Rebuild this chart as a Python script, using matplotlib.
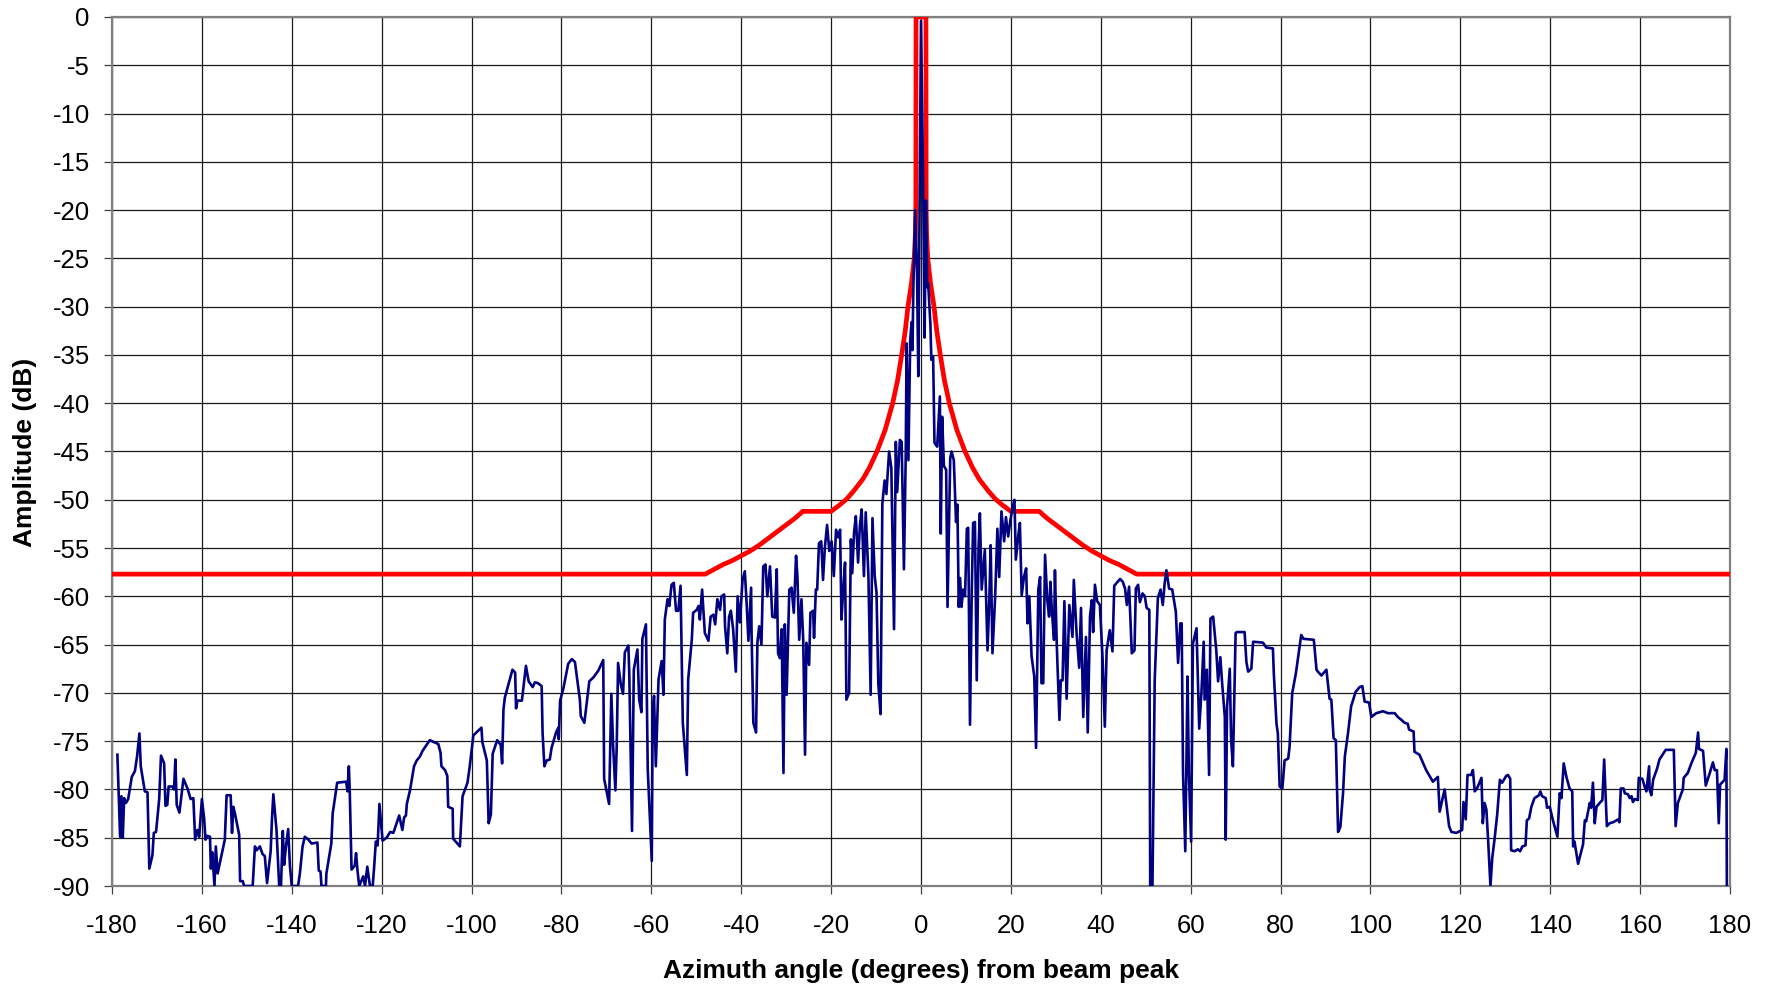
import matplotlib
matplotlib.use("Agg")
import matplotlib.pyplot as plt

plt.rcParams['font.family'] = ['Liberation Sans', 'DejaVu Sans']
plt.rcParams['axes.unicode_minus'] = False

# measured azimuth pattern (degrees, dB)
pattern_angle = [
    -178.8, -178.2, -177.9, -177.6, -177.3, -176.9, -176.4, -175.6, -174.9, -174.4,
    -173.9, -173.6, -172.7, -172.1, -171.7, -171.0, -170.7, -170.2, -169.5, -169.1,
    -168.4, -168.1, -167.7, -167.4, -166.5, -166.2, -165.9, -165.6, -165.0, -164.1,
    -163.2, -162.5, -161.9, -161.5, -161.0, -160.6, -160.0, -159.5, -159.2, -158.8,
    -158.2, -158.0, -157.7, -157.2, -156.9, -156.5, -154.9, -154.5, -153.6, -153.3,
    -153.0, -152.6, -151.7, -151.5, -150.9, -150.6, -148.7, -148.2, -147.8, -147.1,
    -146.5, -146.0, -145.5, -144.7, -144.4, -144.1, -143.7, -143.4, -142.8, -142.4,
    -142.0, -141.7, -141.3, -140.8, -140.4, -140.0, -138.6, -138.2, -137.6, -137.1,
    -136.3, -135.6, -134.3, -134.0, -133.6, -133.4, -132.4, -132.3, -131.2, -130.9,
    -129.9, -127.9, -127.6, -127.3, -127.1, -126.7, -126.0, -125.7, -125.4, -125.0,
    -124.1, -123.7, -123.2, -122.6, -122.0, -121.7, -121.3, -120.9, -120.5,
    -119.8, -118.9, -118.1, -117.4, -116.1, -115.4, -115.0, -114.6, -114.4, -113.7,
    -112.8, -112.2, -111.5, -110.9, -109.3, -107.4, -106.9, -106.7, -105.9, -105.4,
    -105.2, -104.2, -104.1, -102.6, -102.0, -100.9, -100.4, -99.6, -97.8, -97.6,
    -96.6, -96.2, -95.7, -95.3, -94.3, -93.5, -93.2, -92.9, -92.6, -90.9,
    -90.3, -90.1, -89.8, -88.8, -87.9, -87.3, -86.4, -85.9, -85.2, -84.4,
    -84.2, -83.8, -83.3, -82.6, -82.2, -81.2, -80.7, -80.6, -80.3, -79.6,
    -78.5, -77.7, -77.0, -75.9, -75.7, -74.9, -73.8, -72.9, -71.8, -70.7,
    -70.5, -69.4, -68.9, -68.5, -68.0, -67.7, -67.4, -66.8, -66.3, -65.9,
    -65.1, -64.9, -64.3, -63.9, -63.1, -62.7, -62.2, -62.0, -61.2, -60.8,
    -59.9, -59.7, -59.4, -59.0, -58.4, -57.7, -57.3, -57.0, -56.4, -56.0,
    -55.5, -55.0, -54.5, -54.0, -53.5, -53.0, -52.1, -51.8, -51.0, -50.7,
    -49.9, -49.5, -49.2, -48.7, -48.1, -47.3, -46.8, -46.2, -45.8, -45.3,
    -44.7, -44.4, -43.8, -43.6, -43.1, -42.7, -42.3, -41.8, -41.2, -40.8,
    -40.3, -39.7, -39.2, -38.8, -38.4, -37.8, -37.7, -37.3, -36.7, -36.4,
    -36.0, -35.5, -35.1, -34.6, -34.2, -33.6, -33.1, -32.5, -32.1, -31.8,
    -31.4, -31.0, -30.6, -30.3, -29.9, -29.3, -28.8, -28.3, -27.8, -27.5,
    -27.1, -26.6, -26.2, -25.8, -25.5, -24.9, -24.6, -24.0, -23.8, -23.4,
    -23.1, -22.7, -22.2, -21.8, -21.4, -20.9, -20.4, -19.9, -19.4, -18.9,
    -18.4, -18.0, -17.7, -17.3, -16.9, -16.6, -16.0, -15.6, -15.3, -14.9,
    -14.5, -14.0, -13.6, -13.2, -12.7, -12.3, -11.7, -11.2, -10.8, -10.3,
    -9.9, -9.5, -9.0, -8.6, -8.1, -7.7, -7.1, -6.6, -6.3, -6.0,
    -5.6, -5.3, -4.7, -4.3, -3.8, -3.4, -3.2, -2.8, -2.4, -2.1,
    -1.9, -1.7, -1.3, -0.9, -0.6, 0.0, 0.5, 0.8, 1.1, 1.4,
    1.6, 2.1, 2.3, 2.7, 3.0, 3.6, 4.2, 4.4, 4.7, 5.1,
    5.6, 5.9, 6.5, 6.8, 7.3, 7.8, 8.1, 8.4, 8.7, 9.0,
    9.4, 9.8, 10.2, 10.5, 10.9, 11.3, 11.6, 12.0, 12.4, 12.8,
    13.1, 13.5, 14.2, 14.8, 15.2, 15.5, 15.9, 16.5, 17.0, 17.4,
    17.9, 18.5, 18.9, 19.4, 19.9, 20.4, 20.8, 21.1, 21.7, 22.0,
    22.4, 22.9, 23.4, 23.7, 24.1, 24.6, 25.2, 25.6, 26.1, 26.5,
    26.8, 27.2, 27.6, 28.1, 28.5, 28.8, 29.1, 29.6, 29.8, 30.2,
    30.8, 31.1, 31.5, 31.9, 32.4, 33.0, 33.7, 34.0, 34.6, 35.2,
    35.6, 36.1, 36.7, 37.1, 37.6, 38.0, 38.3, 38.7, 39.2, 39.8,
    40.4, 40.9, 41.3, 42.0, 42.6, 43.0, 44.3, 44.9, 45.4, 45.8,
    46.3, 46.9, 47.5, 47.8, 48.3, 48.7, 49.3, 49.8, 50.2, 50.8,
    51.0, 51.5, 52.0, 52.7, 53.3, 53.8, 54.2, 54.6, 55.2, 55.9,
    56.7, 57.2, 57.7, 58.0, 58.3, 58.8, 59.3, 59.6, 60.1, 60.5,
    61.3, 61.9, 62.4, 62.9, 63.1, 63.6, 64.1, 64.4, 65.0, 65.7,
    66.1, 66.6, 67.0, 67.6, 67.8, 68.1, 68.7, 69.0, 69.4, 70.0,
    70.3, 72.0, 72.4, 72.8, 73.5, 73.9, 76.1, 76.8, 78.3, 78.5,
    79.1, 79.4, 79.8, 80.4, 80.9, 81.7, 82.0, 82.6, 83.4, 84.6,
    85.1, 87.4, 88.0, 88.3, 89.1, 90.2, 90.9, 91.3, 91.8, 92.3,
    92.8, 93.3, 93.9, 94.3, 95.0, 95.7, 96.7, 97.6, 98.2, 98.7,
    99.7, 100.2, 101.3, 102.8, 103.9, 105.4, 106.1, 106.9, 107.6, 108.3,
    108.6, 109.6, 109.8, 110.9,
    112.4, 113.9, 115.0, 115.4, 116.5, 117.5, 118.0, 119.1, 120.4, 120.7,
    121.2, 121.6, 122.4, 122.8, 123.2, 123.7, 124.7, 125.0, 125.4, 125.8,
    126.2, 126.7, 127.1, 127.6, 128.2, 128.8, 129.3, 130.2, 130.6, 131.1,
    131.3, 132.1, 132.8, 133.3, 133.8, 134.5, 134.8, 135.3, 135.8, 136.5,
    137.5, 137.8, 138.2, 139.0, 139.3, 139.9, 140.6, 141.6, 142.1, 142.5,
    143.0, 143.6, 144.3, 144.9, 145.1, 145.4, 146.2, 147.3, 147.7, 148.0,
    148.8, 149.1, 149.5, 149.9, 150.3, 151.0, 151.6, 152.0, 152.3, 152.6,
    153.2, 154.0, 155.1, 155.4, 155.7, 156.3, 156.6, 157.3, 157.7, 158.1,
    158.4, 158.8, 159.5, 159.7, 160.5, 161.0, 161.4, 162.0, 162.1, 162.5,
    162.9, 163.8, 164.3, 165.7, 167.5, 167.9, 168.4, 169.5, 169.7, 170.6,
    171.4, 172.4, 172.9, 173.1, 174.0, 174.6, 175.5, 176.2, 176.6, 177.1,
    177.5, 177.8, 178.8, 179.2, 179.3,
]
pattern_db = [
    -76.4, -84.9, -80.7, -85.0, -80.9, -81.4, -81.0, -78.7, -78.1, -76.5,
    -74.2, -77.6, -80.2, -80.3, -88.2, -86.8, -84.5, -84.4, -81.0, -76.5,
    -77.3, -81.7, -81.6, -79.7, -79.7, -80.0, -76.9, -81.6, -82.4, -78.9,
    -79.9, -81.0, -80.9, -85.2, -84.2, -84.9, -81.0, -83.0, -85.2, -84.8,
    -84.9, -88.2, -86.5, -90.0, -85.9, -88.7, -85.2, -80.6, -80.6, -84.5,
    -81.8, -82.6, -84.7, -89.5, -89.5, -90.0, -90.0, -85.9, -86.3, -85.9,
    -86.7, -86.9, -89.7, -86.4, -83.0, -80.5, -82.6, -84.2, -90.0, -90.0,
    -84.3, -87.8, -85.9, -84.1, -88.0, -90.0, -90.0, -88.7, -85.9, -84.9,
    -85.2, -85.6, -85.5, -88.4, -88.5, -90.0, -90.0, -88.7, -85.6, -82.5,
    -79.3, -79.2, -80.2, -77.6, -80.2, -88.3, -87.9, -86.6, -88.3, -90.0,
    -89.0, -90.0, -88.0, -90.0, -90.0, -88.2, -85.4, -85.8, -81.5,
    -85.3, -85.0, -84.4, -84.5, -82.7, -84.2, -82.9, -82.7, -81.5, -80.1,
    -77.6, -77.0, -76.6, -76.0, -74.9, -75.3, -76.2, -77.6, -78.0, -78.6,
    -81.8, -82.0, -85.1, -85.9, -80.7, -79.3, -77.6, -74.4, -73.6, -75.1,
    -77.0, -83.5, -82.6, -76.3, -74.9, -75.4, -77.3, -71.7, -70.5, -67.6,
    -67.9, -71.6, -70.8, -70.8, -67.2, -68.8, -69.4, -68.9, -69.0, -69.3,
    -74.1, -77.6, -77.0, -76.9, -75.7, -74.1, -73.6, -74.8, -70.8, -69.6,
    -67.0, -66.5, -66.8, -70.7, -72.4, -73.1, -68.8, -68.4, -67.7, -66.6,
    -78.9, -81.5, -70.1, -75.5, -80.1, -75.5, -66.9, -69.1, -70.1, -65.8,
    -65.1, -68.2, -84.3, -67.6, -65.5, -70.7, -72.0, -64.4, -62.9, -77.9,
    -87.4, -72.1, -70.3, -77.6, -68.6, -66.7, -70.2, -62.4, -60.3, -61.0,
    -58.8, -58.6, -61.5, -61.5, -58.9, -73.1, -78.5, -68.6, -64.5, -61.7,
    -61.4, -61.0, -62.4, -59.3, -63.8, -64.6, -62.1, -61.9, -62.9, -60.3,
    -61.4, -60.0, -59.8, -63.1, -65.9, -62.1, -61.5, -63.4, -67.8, -60.0,
    -62.7, -58.3, -57.4, -60.7, -64.6, -59.1, -63.8, -73.1, -74.1, -64.8,
    -63.1, -65.0, -56.9, -56.7, -60.0, -56.9, -62.1, -62.2, -57.2, -65.9,
    -66.4, -63.4, -78.3, -62.9, -70.2, -59.3, -59.1, -61.7, -55.8, -57.9,
    -64.5, -60.3, -64.6, -76.4, -64.8, -67.1, -61.7, -61.5, -64.3, -59.3,
    -59.3, -54.5, -54.3, -58.3, -55.0, -52.6, -55.3, -54.3, -57.9, -53.1,
    -53.9, -53.1, -62.4, -59.3, -56.5, -70.7, -70.0, -54.1, -57.6, -53.4,
    -51.7, -56.5, -52.7, -51.0, -57.9, -51.3, -57.9, -70.2, -51.9, -57.9,
    -59.6, -69.0, -72.2, -50.4, -48.0, -49.4, -45.0, -46.7, -55.0, -63.4,
    -44.0, -49.2, -43.8, -44.0, -57.2, -45.5, -33.8, -45.9, -33.5, -31.6,
    -34.5, -28.0, -20.0, -26.0, -37.2, -0.4, -18.0, -33.2, -19.0, -28.0,
    -27.6, -31.9, -35.5, -35.2, -44.1, -44.5, -39.3, -53.5, -41.4, -46.5,
    -46.9, -61.1, -45.7, -45.0, -45.9, -52.3, -50.5, -61.1, -58.1, -61.1,
    -59.3, -60.0, -53.0, -52.9, -73.3, -59.3, -52.4, -52.3, -68.7, -55.0,
    -51.4, -59.3, -55.2, -65.6, -60.4, -54.7, -65.9, -60.0, -53.0, -58.0,
    -51.2, -54.3, -51.8, -53.8, -52.1, -50.7, -50.0, -56.2, -53.5, -52.4,
    -59.9, -58.0, -57.1, -62.8, -60.0, -66.2, -68.3, -75.7, -59.3, -58.0,
    -69.0, -69.0, -55.7, -60.4, -62.1, -58.5, -61.4, -64.5, -57.3, -64.9,
    -72.8, -68.7, -68.7, -60.5, -70.6, -60.9, -64.2, -58.3, -63.7, -67.4,
    -61.2, -72.5, -64.2, -74.1, -62.1, -60.4, -63.7, -58.8, -60.5, -60.9,
    -66.4, -73.5, -65.6, -63.5, -65.7, -58.9, -58.2, -58.5, -59.2, -60.9,
    -59.0, -65.9, -65.6, -59.2, -58.8, -60.6, -59.7, -60.0, -61.2, -61.4,
    -90.0, -90.0, -68.7, -60.2, -59.3, -60.9, -58.7, -57.3, -59.2, -59.3,
    -61.6, -66.9, -62.8, -62.8, -78.3, -86.4, -68.3, -78.3, -85.4, -64.9,
    -63.3, -73.7, -69.9, -64.7, -70.7, -67.6, -78.5, -62.3, -62.1, -65.6,
    -68.8, -66.3, -69.0, -72.5, -85.2, -71.4, -67.5, -74.9, -77.6, -63.8,
    -63.7, -63.7, -66.8, -67.8, -67.5, -64.7, -64.8, -65.3, -65.4, -68.0,
    -73.2, -74.2, -79.7, -79.9, -77.0, -76.8, -75.6, -70.0, -68.0, -64.0,
    -64.4, -64.5, -67.6, -67.8, -68.2, -67.6, -70.6, -70.7, -74.7, -74.9,
    -84.4, -83.9, -80.4, -76.6, -74.2, -71.4, -69.9, -69.4, -69.3, -70.9,
    -71.0, -72.5, -72.1, -71.9, -72.1, -72.1, -72.5, -72.8, -73.1, -73.2,
    -73.8, -74.0, -76.1, -76.4,
    -78.0, -79.2, -78.7, -82.3, -80.0, -83.8, -84.4, -84.5, -84.2, -81.3,
    -83.1, -78.5, -78.5, -78.0, -80.2, -79.9, -78.8, -83.5, -81.4, -82.1,
    -85.4, -90.0, -87.1, -85.2, -82.6, -79.0, -79.3, -78.6, -78.5, -78.9,
    -86.3, -86.4, -86.2, -86.4, -85.9, -85.8, -83.2, -83.0, -81.8, -80.9,
    -80.6, -80.2, -80.7, -80.9, -81.9, -81.8, -83.2, -84.9, -80.4, -80.9,
    -77.3, -78.7, -79.9, -80.2, -85.9, -85.4, -87.7, -85.7, -83.2, -83.3,
    -81.4, -81.9, -79.3, -83.5, -81.8, -81.4, -81.1, -76.9, -80.4, -83.8,
    -83.5, -83.4, -83.1, -83.4, -79.9, -79.9, -80.4, -80.5, -80.9, -80.7,
    -81.3, -81.0, -81.1, -78.8, -78.9, -79.7, -80.2, -77.6, -80.0, -80.6,
    -79.0, -77.8, -76.9, -75.9, -75.9, -83.8, -81.4, -80.0, -78.8, -78.3,
    -77.3, -76.2, -74.1, -75.8, -76.0, -79.6, -78.3, -77.2, -78.0, -78.0,
    -83.5, -79.5, -79.0, -75.8, -90.0,
]

# sidelobe envelope (degrees, dB)
mask_angle = [-180, -48, -46, -44, -42, -40, -38, -36, -34, -32,
              -30, -28, -26.3, -20, -18, -16.5, -15, -13, -11.5, -9.8,
              -8, -6.3, -5.2, -4.3, -3.5, -2.9, -2.1, -1.5, -1.25, -1.15,
              -1.1, 1.1, 1.15, 1.25, 1.5, 2.1, 2.9, 3.5, 4.3, 5.2,
              6.3, 8, 9.8, 11.5, 13, 15, 16.5, 18, 20, 26.3,
              28, 30, 32, 34, 36, 38, 40, 42, 44, 46,
              48, 180]
mask_db = [-57.7, -57.7, -57.2, -56.7, -56.3, -55.8, -55.3, -54.7, -54.0, -53.3,
           -52.6, -51.9, -51.2, -51.2, -50.5, -49.9, -49.1, -47.9, -46.7, -45.0,
           -42.8, -40.0, -37.6, -35.0, -32.5, -30.0, -27.5, -25.0, -22.5, -20.0,
           0.0, 0.0, -20.0, -22.5, -25.0, -27.5, -30.0, -32.5, -35.0, -37.6,
           -40.0, -42.8, -45.0, -46.7, -47.9, -49.1, -49.9, -50.5, -51.2, -51.2,
           -51.9, -52.6, -53.3, -54.0, -54.7, -55.3, -55.8, -56.3, -56.7, -57.2,
           -57.7, -57.7]

fig = plt.figure(figsize=(17.74, 9.88), dpi=100)
ax = fig.add_axes([112 / 1774, 1 - 886 / 988, 1618 / 1774, 869 / 988])

ax.plot(mask_angle, mask_db, color='#FF0000', linewidth=3.4, zorder=3,
        solid_joinstyle='round')
ax.plot(pattern_angle, pattern_db, color='#000080', linewidth=1.9, zorder=4)

ax.set_xlim(-180, 180)
ax.set_ylim(-90, 0)
ax.set_xticks(range(-180, 181, 20))
ax.set_yticks(range(-90, 1, 5))
ax.grid(True, color='#1a1a1a', linewidth=0.9)
ax.set_axisbelow(True)

for side in ['left', 'right', 'top', 'bottom']:
    ax.spines[side].set_color('#808080')
    ax.spines[side].set_linewidth(1.6)

ax.tick_params(axis='both', direction='out', length=6, width=0.9,
               color='#404040', labelsize=18.5)
ax.tick_params(axis='y', pad=10)
ax.tick_params(axis='x', pad=14)

fig.text(921 / 1774, 1 - 971 / 988, 'Azimuth angle (degrees) from beam peak',
         ha='center', va='center', fontsize=19, fontweight='bold')
fig.text(25 / 1774, 1 - 452 / 988, 'Amplitude (dB)', rotation=90,
         ha='center', va='center', fontsize=19, fontweight='bold')

fig.savefig('out.png', dpi=100, facecolor='white')
